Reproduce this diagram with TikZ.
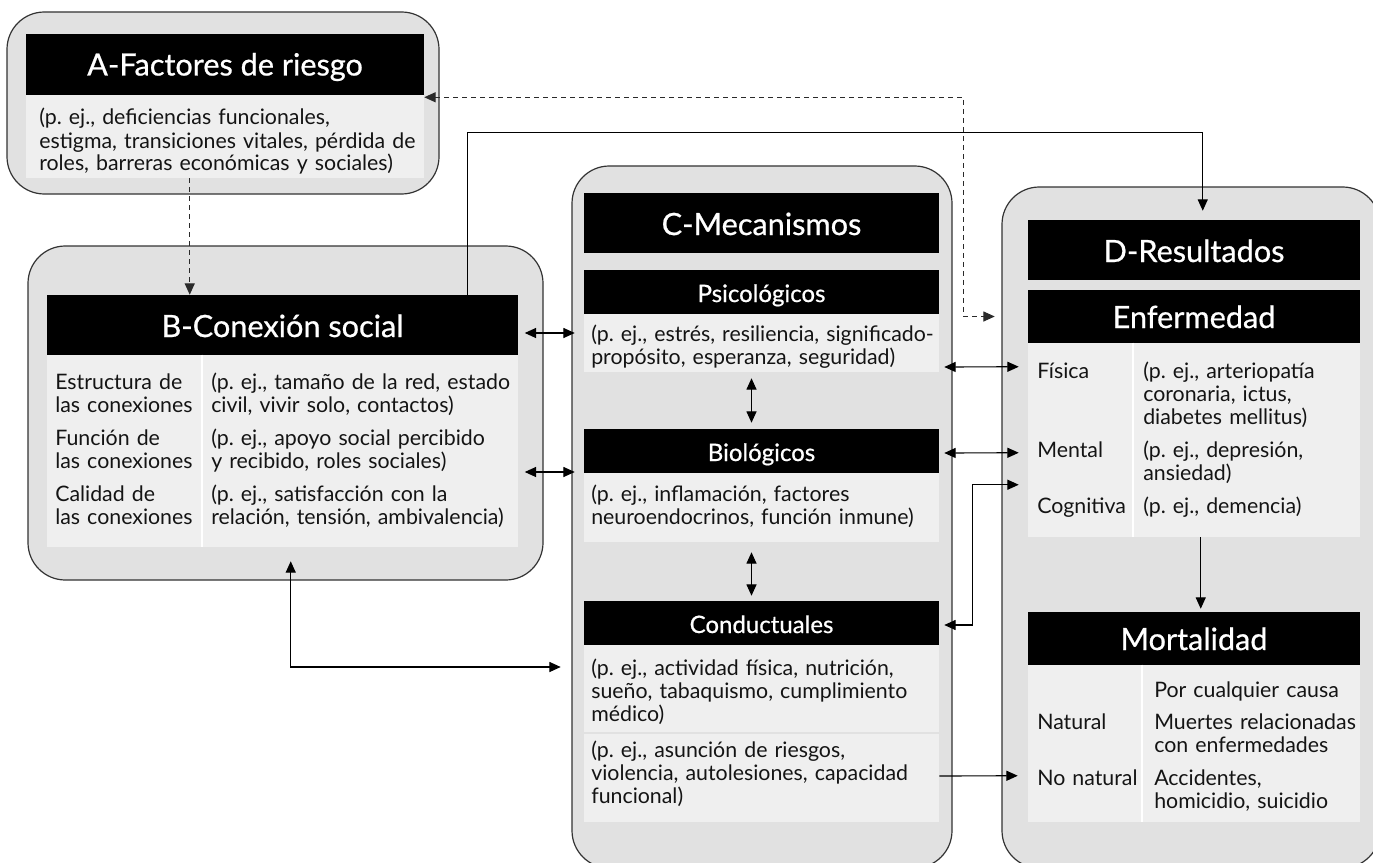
\documentclass[tikz,border=0pt]{standalone}
\usepackage{fontspec}
\setmainfont{Lato}
\newfontfamily\headfont{Lato}[FakeBold=0.7]
\usetikzlibrary{arrows.meta,fit,calc}
\frenchspacing

\definecolor{panelfill}{HTML}{E1E1E1}
\definecolor{cellfill}{HTML}{EFEFEF}
\definecolor{panelline}{HTML}{333333}
\definecolor{dashline}{HTML}{2A2A2A}
\definecolor{inktext}{HTML}{141414}

\newcommand\titlesize{\headfont\fontsize{23}{27}\selectfont}
\newcommand\subsize{\headfont\fontsize{18}{21}\selectfont}
\newcommand\bodysize{\frenchspacing\fontsize{16}{17.25}\selectfont}

\tikzset{
  panel/.style={draw=panelline, line width=0.9pt, fill=panelfill, rounded corners=28pt, inner sep=0pt},
  headbar/.style={fill=black, inner sep=0pt},
  titletext/.style={anchor=base, inner sep=0pt, text=white, font=\titlesize},
  subtext/.style={anchor=base, inner sep=0pt, text=white, font=\subsize},
  cell/.style={fill=cellfill, inner sep=0pt},
  colrule/.style={draw=white, line width=1.5pt},
  txt/.style={anchor=base west, inner sep=0pt, align=left, text width=300pt, font=\bodysize, text=inktext},
  >={Triangle[length=8.5pt,width=7.5pt]},
  onearrow/.style={line width=0.85pt, ->},
  twoarrow/.style={line width=0.85pt, <->},
  dasharrow/.style={line width=0.85pt, draw=dashline, dash pattern=on 3.75pt off 3pt},
}

\begin{document}
\begin{tikzpicture}[x=0.75pt,y=-0.75pt]
\useasboundingbox (0,0) rectangle (1373,863);

% outer panels
\node[panel, fit={(7,12)(439,194)}] (Apanel) {};
\node[panel, fit={(28,246)(543,580)}] (Bpanel) {};
\node[panel, fit={(572,166)(952,868)}] (Cpanel) {};
\node[panel, fit={(1002,187)(1380,868)}] (Dpanel) {};

% A: risk factors
\node[headbar, fit={(26,34)(424,95)}] (Ahead) {};
\node[titletext] (Atitle) at ($(Ahead.center)+(0,11)$) {A-Factores de riesgo};
\node[cell, fit={(26,95)(424,178)}] (Abody) {};
\node[txt] (Atext) at (39,125) {(p. ej., deficiencias funcionales,\\estigma, transiciones vitales, pérdida de\\roles, barreras económicas y sociales)};

% B: social connection
\node[headbar, fit={(47,295)(518,355)}] (Bhead) {};
\node[titletext] (Btitle) at ($(Bhead.center)+(0,12)$) {B-Conexión social};
\node[cell, fit={(47,355)(518,547)}] (Bbody) {};
\draw[colrule] ($(Bbody.north west)+(155,0)$) -- ($(Bbody.south west)+(155,0)$);
\node[txt] (Bs1) at (55,389) {Estructura de\\las conexiones};
\node[txt] (Bs2) at (211,389) {(p. ej., tamaño de la red, estado\\civil, vivir solo, contactos)};
\node[txt] (Bf1) at (55,445) {Función de\\las conexiones};
\node[txt] (Bf2) at (211,445) {(p. ej., apoyo social percibido\\y recibido, roles sociales)};
\node[txt] (Bq1) at (55,501) {Calidad de\\las conexiones};
\node[txt] (Bq2) at (211,501) {(p. ej., satisfacción con la\\relación, tensión, ambivalencia)};

% C: mechanisms
\node[headbar, fit={(584,193)(939,253)}] (Chead) {};
\node[titletext] (Ctitle) at ($(Chead.center)+(0,12)$) {C-Mecanismos};
\node[headbar, fit={(584,270)(939,314)}] (Psyhead) {};
\node[subtext] (Psytitle) at ($(Psyhead.center)+(0,10)$) {Psicológicos};
\node[cell, fit={(584,314)(939,372)}] (Psybody) {};
\node[txt] (Psytext) at (591,341) {(p. ej., estrés, resiliencia, significado-\\propósito, esperanza, seguridad)};
\node[headbar, fit={(584,429)(939,473)}] (Biohead) {};
\node[subtext] (Biotitle) at ($(Biohead.center)+(0,10)$) {Biológicos};
\node[cell, fit={(584,473)(939,542)}] (Biobody) {};
\node[txt] (Biotext) at (591,501) {(p. ej., inflamación, factores\\neuroendocrinos, función inmune)};
\node[headbar, fit={(584,601)(939,645)}] (Behhead) {};
\node[subtext] (Behtitle) at ($(Behhead.center)+(0,10)$) {Conductuales};
\node[cell, fit={(584,645)(939,732)}] (Behbody) {};
\node[cell, fit={(584,733.5)(939,822)}] (Riskbody) {};
\node[txt] (Behtext) at (591,675) {(p. ej., actividad física, nutrición,\\sueño, tabaquismo, cumplimiento\\médico)};
\node[txt] (Risktext) at (591,757) {(p. ej., asunción de riesgos,\\violencia, autolesiones, capacidad\\funcional)};

% D: outcomes
\node[headbar, fit={(1028,220)(1360,280)}] (Dhead) {};
\node[titletext] (Dtitle) at ($(Dhead.center)+(0,12)$) {D-Resultados};
\node[headbar, fit={(1028,290)(1360,343)}] (Illhead) {};
\node[titletext] (Illtitle) at ($(Illhead.center)+(0,11.5)$) {Enfermedad};
\node[cell, fit={(1028,343)(1360,537)}] (Illbody) {};
\draw[colrule] ($(Illbody.north west)+(105,0)$) -- ($(Illbody.south west)+(105,0)$);
\node[txt] (Ill1a) at (1037,378) {Física};
\node[txt] (Ill1b) at (1143,378) {(p. ej., arteriopatía\\coronaria, ictus,\\diabetes mellitus)};
\node[txt] (Ill2a) at (1037,457) {Mental};
\node[txt] (Ill2b) at (1143,457) {(p. ej., depresión,\\ansiedad)};
\node[txt] (Ill3a) at (1037,513) {Cognitiva};
\node[txt] (Ill3b) at (1143,513) {(p. ej., demencia)};
\node[headbar, fit={(1028,612)(1360,665)}] (Morthead) {};
\node[titletext] (Morttitle) at ($(Morthead.center)+(0,11.5)$) {Mortalidad};
\node[cell, fit={(1028,665)(1360,822)}] (Mortbody) {};
\draw[colrule] ($(Mortbody.north west)+(114,0)$) -- ($(Mortbody.south west)+(114,0)$);
\node[txt] (Mort0) at (1154,697) {Por cualquier causa};
\node[txt] (Mort1a) at (1037,729) {Natural};
\node[txt] (Mort1b) at (1154,729) {Muertes relacionadas\\con enfermedades};
\node[txt] (Mort2a) at (1037,785) {No natural};
\node[txt] (Mort2b) at (1154,785) {Accidentes,\\homicidio, suicidio};

% connectors
\draw[dasharrow, ->] ($(Abody.south west)+(164,0)$) -- ($(Bhead.north west)+(143,0)$);
\draw[dasharrow, <->] ($(Ahead.south east)+(0,2)$) -| ($(Illhead.west)+(-64,0)$) -- ($(Illhead.west)+(-33,0)$);
\draw[onearrow] ($(Bhead.north west)+(421,0)$) |- ($(Dhead.north west)+(175,-87)$) -- ($(Dhead.north west)+(175,-9)$);
\draw[twoarrow] ($(Psyhead.west)+(-59,41)$) -- ($(Psyhead.west)+(-9,41)$);
\draw[twoarrow] ($(Biohead.west)+(-59,21)$) -- ($(Biohead.west)+(-9,21)$);
\draw[twoarrow] ($(Bbody.south west)+(244,14)$) |- ($(Behbody.west)+(-23,-21.5)$);
\draw[twoarrow] ($(Psybody.south)+(-10,6)$) -- ($(Biohead.north)+(-10,-6)$);
\draw[twoarrow] ($(Biobody.south)+(-10,10)$) -- ($(Behhead.north)+(-10,-5)$);
\draw[twoarrow] ($(Psybody.east)+(5,24)$) -- ($(Illbody.north west)+(-9,24)$);
\draw[twoarrow] ($(Biohead.east)+(5,2)$) -- ($(Illbody.north west)+(-9,110)$);
\draw[twoarrow] ($(Illbody.north west)+(-9,142)$) -- ($(Illbody.north west)+(-55,142)$) |- ($(Behhead.east)+(5,2)$);
\draw[onearrow] ($(Illbody.south west)+(173,0)$) -- ($(Morthead.north west)+(173,-3)$);
\draw[onearrow] ($(Riskbody.east)+(0,-1.75)$) -- ($(Mortbody.north west)+(-10,111)$);
\end{tikzpicture}
\end{document}
